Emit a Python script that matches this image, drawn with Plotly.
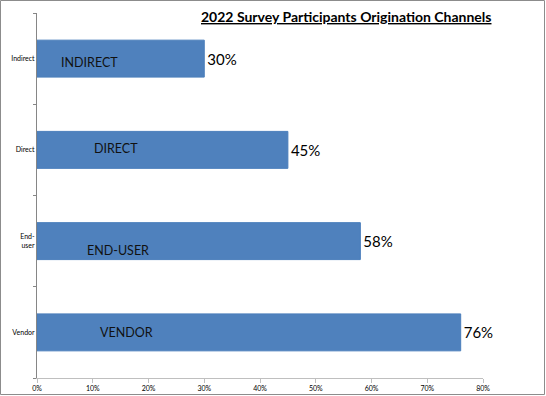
import plotly.graph_objects as go

categories = ["Indirect", "Direct", "End-user", "Vendor"]
tick_labels = ["Indirect", "Direct", "End-<br>user", "Vendor"]
values = [0.30, 0.45, 0.58, 0.76]
inner_labels = ["INDIRECT", "DIRECT", "END-USER", "VENDOR"]

# placement of the hand-positioned text boxes inside bars (x in data units, y shift px)
inner_x = [0.095, 0.142, 0.145, 0.161]
inner_yshift = [-4, 1, -9, 0]

W, H = 546, 396
ml, mr, mt, mb = 37, 63, 13, 18
pw, ph = W - ml - mr, H - mt - mb

fig = go.Figure()
fig.add_trace(go.Bar(
    y=categories, x=values, orientation="h",
    marker=dict(color="#4F81BD", line=dict(color="#4A7EBB", width=1)),
    text=[f"{v:.0%}" for v in values], textposition="outside",
    textfont=dict(family="Lato", size=15, color="#000000"),
    cliponaxis=False, hoverinfo="skip",
))

for lab, x, ys, cat in zip(inner_labels, inner_x, inner_yshift, categories):
    fig.add_annotation(x=x, y=cat, text=lab, showarrow=False, yshift=ys,
                       font=dict(family="Lato", size=12.5, color="#111111"))

fig.add_annotation(xref="paper", yref="paper", x=(346 - ml) / pw, y=1 + (mt - 17) / ph,
                   text="<b><u>2022 Survey Participants Origination Channels</u></b>",
                   showarrow=False, font=dict(family="Lato", size=14, color="#000000"),
                   xanchor="center", yanchor="middle")

# outer chart border
fig.add_shape(type="rect", xref="paper", yref="paper",
              x0=(0.5 - ml) / pw, x1=(W - 1.5 - ml) / pw,
              y0=-(H - 1.5 - mt - ph) / ph, y1=1 + (mt - 0.5) / ph,
              line=dict(color="#8C8C8C", width=1), layer="above")

fig.update_layout(
    width=W, height=H, autosize=False, margin=dict(l=ml, r=mr, t=mt, b=mb),
    paper_bgcolor="white", plot_bgcolor="white",
    showlegend=False, bargap=0.595,
    font=dict(family="Lato", color="#000000"),
    xaxis=dict(range=[0, 0.8], dtick=0.1, tickformat=".0%", showgrid=False, zeroline=False,
               showline=True, linecolor="#BFBFBF", linewidth=1, ticks="outside", ticklen=4,
               tickcolor="#BFBFBF", tickfont=dict(size=7, color="#000000"), fixedrange=True,
               automargin=False),
    yaxis=dict(categoryorder="array", categoryarray=categories, autorange="reversed",
               tickvals=categories, ticktext=tick_labels, tickson="boundaries",
               showgrid=False, showline=True, linecolor="#868686", linewidth=1,
               ticks="outside", ticklen=3, tickcolor="#868686",
               tickfont=dict(size=7, color="#000000"), fixedrange=True,
               automargin=False),
)

fig.write_html("out.html", config={"displayModeBar": False, "responsive": False},
               post_script="document.body.style.margin='0';document.body.style.overflow='hidden';")
